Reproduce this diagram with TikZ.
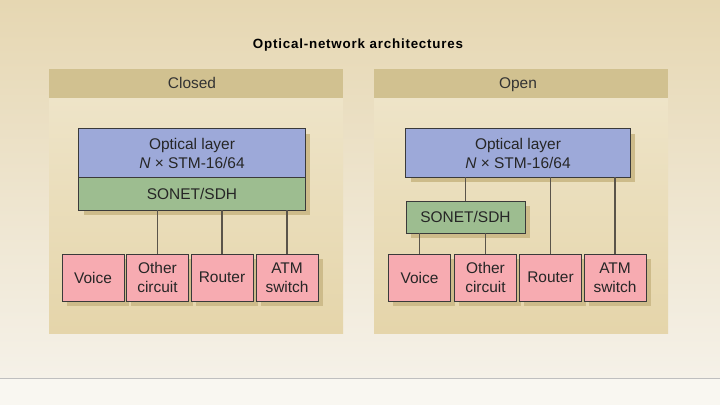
\documentclass[tikz,border=0pt]{standalone}
\usepackage{fontspec}
\setmainfont{Liberation Sans}
\newfontfamily\titlefont[LetterSpace=6]{Liberation Sans}
\usetikzlibrary{shadows}
\definecolor{bgtop}{HTML}{E6D7B2}
\definecolor{bgbot}{HTML}{F5F1E8}
\definecolor{hdr}{HTML}{D1C190}
\definecolor{paneltop}{HTML}{EEE4C8}
\definecolor{panelbot}{HTML}{E5D5AA}
\definecolor{optblue}{HTML}{9DA9D9}
\definecolor{songreen}{HTML}{9DBD90}
\definecolor{endpink}{HTML}{F7ABB1}
\definecolor{shad}{HTML}{CDBB8A}
\definecolor{edge}{HTML}{3A3A3A}
\definecolor{wire}{HTML}{5A544A}
\tikzset{
  x=0.025cm, y=-0.025cm,
  box/.style={draw=edge, line width=0.7pt, rectangle, inner sep=0pt, align=center,
    font=\fontsize{11}{13.5}\selectfont, text=black!85,
    general shadow={fill=shad, shadow xshift=0.12cm, shadow yshift=-0.12cm}},
  optbox/.style={box, fill=optblue, minimum height=1.2cm},
  sonbox/.style={box, fill=songreen},
  endbox/.style={box, fill=endpink, minimum width=1.55cm, minimum height=1.175cm},
  wireline/.style={draw=wire, line width=0.9pt},
  hdrtext/.style={font=\fontsize{11}{12}\selectfont, text=black!80, anchor=base},
}
\begin{document}
\begin{tikzpicture}
\useasboundingbox (0,0) rectangle (720,405);
% background
\shade[top color=bgtop, bottom color=bgbot] (0,0) rectangle (720,378);
\fill[bgbot!60!white] (0,378) rectangle (720,405);
\draw[color=black!25, line width=0.6pt] (0,378) -- (720,378);
% title
\node[font=\titlefont\bfseries\fontsize{9.5}{10}\selectfont] (title) at (358,45) {Optical-network architectures};
% panels
\shade[top color=paneltop, bottom color=panelbot] (49,98) rectangle (343,333);
\fill[hdr] (49,69) rectangle (343,98);
\node[hdrtext] (closedhdr) at (192,89) {Closed};
\shade[top color=paneltop, bottom color=panelbot] (374,98) rectangle (668,333);
\fill[hdr] (374,69) rectangle (668,98);
\node[hdrtext] (openhdr) at (518,89) {Open};
% Closed
\node[optbox, minimum width=5.65cm] (optC) at (192,153) {Optical layer\\\textit{N} × STM-16/64};
\node[sonbox, minimum width=5.65cm, minimum height=0.825cm] (sonC) at (192,193.5) {SONET/SDH};
\node[endbox] (voiceC) at (93,277.5) {Voice};
\node[endbox] (otherC) at (157.5,277.5) {Other\\circuit};
\node[endbox] (routerC) at (222,277.5) {Router};
\node[endbox] (atmC) at (287,277.5) {ATM\\switch};
\draw[wireline] (sonC.south -| otherC.north) -- (otherC.north);
\draw[wireline] (sonC.south -| routerC.north) -- (routerC.north);
\draw[wireline] (sonC.south -| atmC.north) -- (atmC.north);
% Open
\node[optbox, minimum width=5.6cm] (optO) at (518,153) {Optical layer\\\textit{N} × STM-16/64};
\node[endbox] (voiceO) at (419.5,277.5) {Voice};
\node[endbox] (otherO) at (485.5,277.5) {Other\\circuit};
\node[endbox] (routerO) at (550.5,277.5) {Router};
\node[endbox] (atmO) at (615,277.5) {ATM\\switch};
\node[sonbox, minimum width=2.975cm, minimum height=0.8cm] (sonO) at (465.5,217) {SONET/SDH};
\draw[wireline] (optO.south -| sonO.north) -- (sonO.north);
\draw[wireline] (optO.south -| routerO.north) -- (routerO.north);
\draw[wireline] (optO.south -| atmO.north) -- (atmO.north);
\draw[wireline] (sonO.south -| voiceO.north) -- (voiceO.north);
\draw[wireline] (sonO.south -| otherO.north) -- (otherO.north);
\end{tikzpicture}
\end{document}
